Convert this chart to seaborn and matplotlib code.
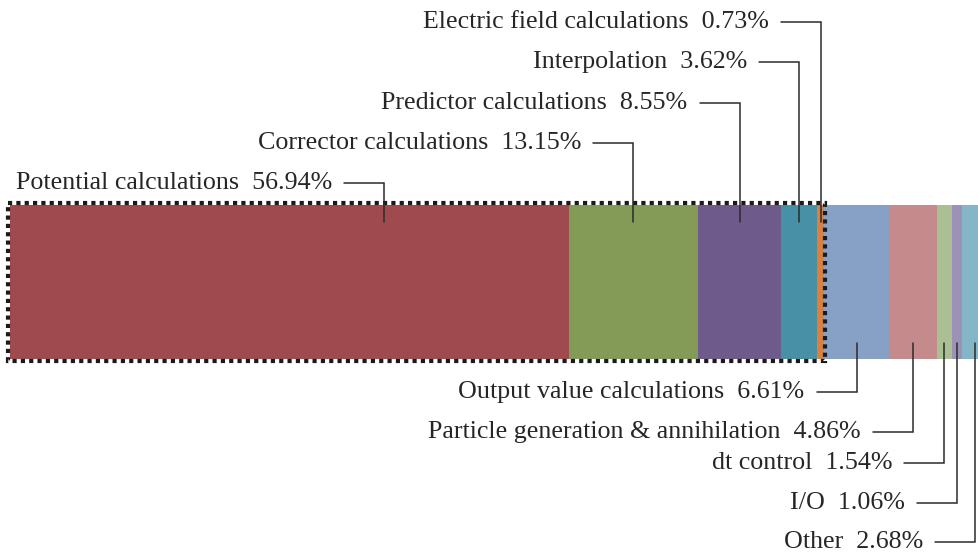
import numpy as np
import pandas as pd
import matplotlib
matplotlib.use("Agg")
import matplotlib.pyplot as plt
from matplotlib.patches import Rectangle
import seaborn as sns

# Share of run time per routine (percent)
categories = [
    "Potential calculations",
    "Corrector calculations",
    "Predictor calculations",
    "Interpolation",
    "Electric field calculations",
    "Output value calculations",
    "Particle generation & annihilation",
    "dt control",
    "I/O",
    "Other",
]
shares = [56.94, 13.15, 8.55, 3.62, 0.73, 6.61, 4.86, 1.54, 1.06, 2.68]
colors = [
    "#9E4A4E", "#849B58", "#6E5B8B", "#4790A6", "#D9813D",
    "#87A0C6", "#C48A8C", "#AABF92", "#9B92B6", "#84B6C8",
]
# labels above the bar (first five) and below it (the rest)
n_top = 5

sns.set_theme(style="white")
plt.rcParams["font.family"] = ["Liberation Serif", "DejaVu Serif"]

W, H = 979, 559
fig = plt.figure(figsize=(W / 100, H / 100), dpi=100)
ax = fig.add_axes([0, 0, 1, 1])

# pixel helpers for the layout
px_per_unit = 9.81
x0_px = 10
bar_h = 0.8
bar_center_px = 282
bar_px = 154
y_scale = bar_px / bar_h


def py(p):
    return (p - bar_center_px) / y_scale


def pxw(p):
    return p / px_per_unit


ends = np.cumsum(shares)

# stacked bar: draw cumulative totals from longest to shortest
df = pd.DataFrame({"task": categories, "cum": ends, "color": colors})
for i in range(len(df) - 1, -1, -1):
    sns.barplot(x=[df.cum[i]], y=["run"], orient="h", color=df.color[i],
                width=bar_h, saturation=1, linewidth=0, ax=ax)

ax.set_xlim(-x0_px / px_per_unit, (W - x0_px) / px_per_unit)
ax.set_ylim(py(H), py(0))
ax.axis("off")

# dotted frame around the compute routines
grp_end = ends[n_top - 1]
ax.add_patch(Rectangle((pxw(-2), py(203)), grp_end + pxw(3), py(361) - py(203),
                       fill=False, edgecolor="#1a1a1a", linewidth=3.0,
                       linestyle=(0, (1, 1)), zorder=5, clip_on=False))

# leader lines and labels
top_y = [183, 143, 103, 62, 22]
bot_y = [392, 432, 463, 503, 542]
line_c = "#2b2b2b"
for i, (name, v) in enumerate(zip(categories, shares)):
    half = shares[i] / 2
    anchor = ends[i] - min(half, 18.8)
    if i < n_top:
        ly = py(top_y[i])
        yend = py(222)
    else:
        ly = py(bot_y[i - n_top])
        yend = py(343)
    xs = anchor - pxw(40)
    ax.plot([xs, anchor, anchor], [ly, ly, yend], color=line_c, lw=1.1,
            solid_joinstyle="miter", zorder=6)
    ax.text(xs - pxw(12), ly, f"{name}  {v:.2f}%", ha="right", va="center",
            fontsize=18.7, color="#262626", zorder=6)

fig.savefig("out.png", dpi=100, facecolor="white")
